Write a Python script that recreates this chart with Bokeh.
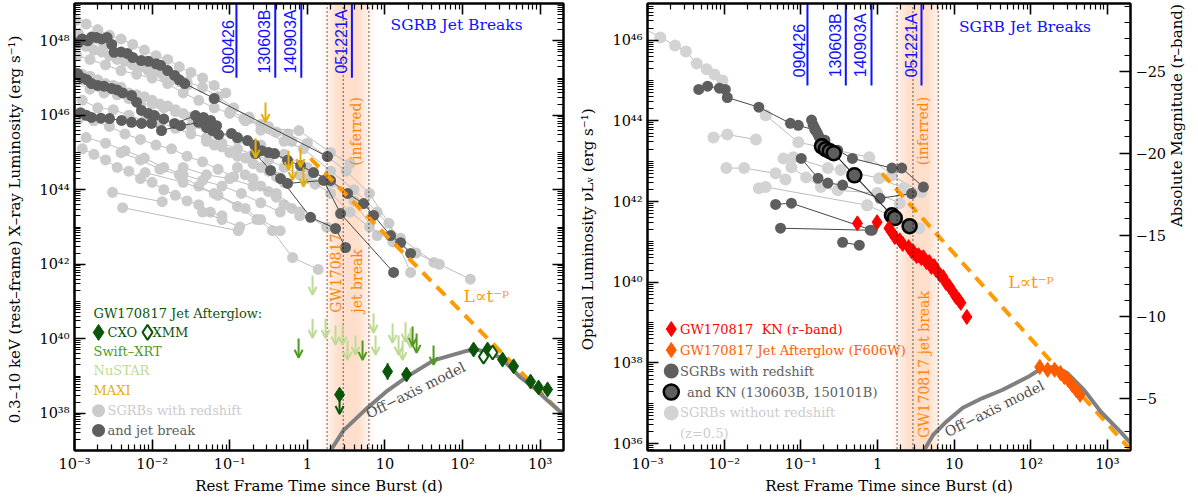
import math
from bokeh.plotting import figure
from bokeh.models import (FixedTicker, CustomJSTickFormatter, LogAxis, LinearAxis, LinearScale,
                          Range1d, Arrow, OpenHead, Label, Span, ColumnDataSource)
from bokeh.layouts import row
from bokeh.embed import file_html
from bokeh.resources import INLINE

# ======================= DATA (log10 t [days], log10 L [erg/s]) =======================
# --- X-ray panel: SGRBs with redshift (light grey curves)
xray_grey_curves = [
    ([-2.98, -2.85, -2.7, -2.55, -2.4, -2.25, -2.1, -1.95, -1.8, -1.65, -1.5, -1.35, -1.2, -1.05],
     [48.55, 48.45, 48.3, 48.15, 48.05, 47.9, 47.75, 47.6, 47.5, 47.3, 47.15, 47.0, 46.8, 46.6]),
    ([-2.95, -2.8, -2.62, -2.45, -2.28, -2.1, -1.92, -1.75, -1.55, -1.35, -1.15, -0.95, -0.75],
     [48.2, 48.0, 47.85, 47.65, 47.5, 47.4, 47.2, 47.05, 46.9, 46.75, 46.5, 46.2, 45.95]),
    ([-2.95, -2.85, -2.75, -2.65, -2.55, -2.45, -2.35, -2.25, -2.15, -2.05, -1.95, -1.85, -1.75, -1.65, -1.55],
     [47.9, 47.85, 47.75, 47.7, 47.6, 47.5, 47.45, 47.35, 47.3, 47.2, 47.15, 47.05, 46.95, 46.9, 46.8]),
    ([-2.97, -2.8, -2.6, -2.4, -2.2, -2.0, -1.8, -1.6, -1.4, -1.2, -1.0, -0.8, -0.6, -0.4, -0.2],
     [47.6, 47.5, 47.35, 47.2, 47.1, 47.0, 46.85, 46.6, 46.4, 46.2, 46.05, 45.85, 45.75, 45.55, 45.3]),
    ([-2.9, -2.8, -2.7, -2.6, -2.5, -2.4, -2.3, -2.2, -2.1, -2.0, -1.9, -1.8, -1.7, -1.6, -1.5, -1.4, -1.3],
     [47.1, 47.05, 46.95, 46.85, 46.8, 46.75, 46.6, 46.55, 46.5, 46.4, 46.3, 46.25, 46.15, 46.05, 45.95, 45.85, 45.8]),
    ([-2.98, -2.8, -2.62, -2.45, -2.3, -2.15, -2.0, -1.85, -1.7],
     [46.9, 46.7, 46.6, 46.55, 46.45, 46.3, 46.3, 46.2, 46.1]),
    ([-2.9, -2.7, -2.5, -2.3, -2.1, -1.9, -1.7, -1.5, -1.3, -1.1, -0.9, -0.7, -0.5, -0.3, -0.1, 0.1],
     [46.4, 46.2, 46.15, 46.0, 45.85, 45.8, 45.65, 45.5, 45.4, 45.25, 45.1, 44.95, 44.8, 44.6, 44.4, 44.15]),
    ([-2.95, -2.75, -2.55, -2.35, -2.15, -1.95, -1.75, -1.55, -1.35, -1.15, -0.95],
     [45.9, 45.85, 45.7, 45.5, 45.35, 45.2, 45.1, 44.9, 44.75, 44.55, 44.35]),
    ([-2.85, -2.6, -2.35, -2.1, -1.85, -1.6, -1.35, -1.1, -0.85, -0.6, -0.35],
     [45.4, 45.25, 45.05, 44.85, 44.6, 44.4, 44.25, 44.1, 43.9, 43.65, 43.4]),
    ([-2.9, -2.75, -2.6, -2.45, -2.3, -2.15, -2.0, -1.85, -1.7, -1.55, -1.4, -1.25, -1.1],
     [45.1, 44.95, 44.8, 44.6, 44.5, 44.3, 44.2, 44.0, 43.85, 43.7, 43.6, 43.4, 43.3]),
    ([-2.4, -2.15, -1.9, -1.65, -1.4, -1.15, -0.9, -0.65],
     [45.0, 44.8, 44.55, 44.4, 44.1, 43.85, 43.55, 43.2]),
    ([-2.51, -1.87], [43.93, 43.68]),
    ([-2.38, -0.89], [43.52, 42.9]),
    ([-2.09, -1.6, -1.2, -0.8, -0.45, -0.19, 0.14], [44.46, 44.2, 43.9, 43.5, 42.9, 42.18, 41.86]),
    ([-1.5, -1.2, -0.9, -0.6, -0.3, 0.0, 0.3, 0.6, 0.9], [45.7, 45.55, 45.35, 45.2, 44.95, 44.6, 44.2, 43.7, 42.77]),
    ([-1.3, -1.2, -1.1, -1.0, -0.9, -0.8, -0.7, -0.6, -0.5, -0.4, -0.3],
     [45.3, 45.2, 45.15, 45.0, 44.9, 44.85, 44.7, 44.6, 44.5, 44.35, 44.2]),
    ([-0.9, -0.8, -0.7, -0.6, -0.5, -0.4, -0.3, -0.2, -0.1],
     [44.6, 44.4, 44.3, 44.1, 43.95, 43.8, 43.6, 43.5, 43.3]),
    ([-1.0, -0.75, -0.5, -0.25, 0.0, 0.25, 0.5, 0.8, 1.05, 1.33],
     [46.1, 45.9, 45.7, 45.5, 45.25, 44.9, 44.5, 43.9, 43.1, 41.78]),
    ([-0.6, -0.3, -0.05, 0.3, 0.6, 0.9, 1.2, 1.63], [45.6, 45.3, 45.1, 44.5, 44.0, 43.4, 42.7, 42.05]),
    ([-1.6, -1.3, -1.0, -0.7, -0.4, -0.1, 0.25], [44.6, 44.4, 44.3, 44.1, 43.9, 43.4, 43.0]),
    ([-0.82, -0.5, -0.11, 0.3, 0.55], [45.91, 45.64, 45.59, 45.0, 44.7]),
    ([0.0, 0.3, 0.55, 0.8, 1.1, 1.4, 1.7, 2.1], [44.3, 43.9, 43.4, 43.0, 42.6, 42.3, 42.0, 41.6]),
    ([-1.35, -1.1, -0.87, -0.6, -0.35], [43.4, 43.2, 43.0, 43.2, 42.9]),
]
# --- X-ray panel: SGRBs with redshift and jet break (dark grey curves)
xray_dark_curves = [
    ([-2.95, -2.9, -2.83, -2.78, -2.72, -2.65, -2.58, -2.52, -2.49, -2.4, -2.32, -2.25, -2.14, -2.05,
      -1.95, -1.89, -1.8, -1.71, -1.65, -1.58, -1.20, 0.26],
     [47.95, 48.05, 48.0, 48.1, 48.09, 48.05, 48.09, 47.9, 47.69, 47.7, 47.66, 47.55, 47.47, 47.45,
      47.38, 47.34, 47.2, 47.07, 46.95, 46.85, 46.45, 44.89]),
    ([-2.961, -2.9, -2.84, -2.781, -2.7, -2.62, -2.523, -2.45, -2.38, -2.265, -2.2, -2.137, -2.05,
      -1.969, -1.85, -1.711, -1.441, -1.402, -1.338, -1.299, -1.247, -1.222, -1.170, -1.144, -0.977,
      -0.9, -0.771, -0.68, -0.590, -0.5, -0.423, -0.255, -0.088, 0.080, 0.299, 0.518, 0.724, 0.853,
      1.072, 1.201, 1.330],
     [47.12, 47.0, 46.95, 46.85, 46.8, 46.78, 46.72, 46.68, 46.6, 46.53, 46.35, 46.13, 46.05, 45.99,
      45.9, 45.78, 45.99, 45.81, 45.94, 45.67, 45.86, 45.59, 45.72, 45.48, 45.51, 45.4, 45.32, 45.2,
      45.05, 45.0, 44.97, 44.79, 44.65, 44.46, 44.25, 43.90, 43.63, 43.31, 42.77, 42.58, 42.29]),
    ([-2.923, -2.85, -2.781, -2.66, -2.549, -2.394, -2.265, -2.137, -2.008, -1.879, -1.634, -1.363],
     [46.07, 46.0, 45.94, 45.92, 45.91, 45.86, 45.81, 45.78, 45.78, 45.59, 45.72, 45.81]),
    ([-0.668, -0.474, -0.345, 0.041, 0.363, 0.492], [44.97, 44.52, 44.30, 43.26, 42.96, 42.45]),
    ([-0.255, 0.209, 0.428, 1.111], [44.17, 44.25, 43.36, 41.78]),
]
# --- GW170817 X-ray afterglow
cxo_logt = [1.034, 1.278, 2.142, 2.322, 2.515, 2.657, 2.876, 2.979, 3.095]
cxo_logL = [39.12, 39.04, 39.71, 39.71, 39.44, 39.26, 38.85, 38.69, 38.64]
cxo_err = [0.22, 0.06, 0.06, 0.06, 0.06, 0.06, 0.08, 0.12, 0.12]
cxo_ul_logt = [0.415]
cxo_ul_logL = [38.50]
xmm_logt = [2.27, 2.387]
xmm_logL = [39.52, 39.63]
xrt_ul_logt = [-0.113, 0.711, 1.356, 1.407, 1.626]
xrt_ul_logL = [40.01, 39.95, 40.33, 40.14, 39.82]
nustar_ul_logt = [0.067, 0.067, 0.235, 0.363, 0.454, 0.518, 0.621, 0.853, 0.879, 1.098, 1.175, 1.227, 1.265, 1.33]
nustar_ul_logL = [41.70, 40.54, 40.54, 40.36, 40.36, 39.95, 40.09, 40.68, 40.09, 40.41, 40.09, 39.95, 40.44, 40.28]
maxi_ul_logt = [-0.539, -0.667, -0.242, -0.19, -0.088, -0.05]
maxi_ul_logL = [46.34, 45.38, 45.05, 44.78, 45.13, 44.60]
# off-axis model & power-law decline (X-ray)
xmodel_logt = [0.299, 0.466, 0.776, 1.034, 1.291, 1.626, 2.064, 2.193, 2.49, 2.747, 2.915, 3.095, 3.30]
xmodel_logL = [37.0, 37.54, 38.15, 38.61, 38.99, 39.42, 39.68, 39.71, 39.50, 38.96, 38.69, 38.34, 37.97]
xdecay_logt = [0.04, 3.30]
xdecay_logL = [44.84, 37.94]

# --- Optical panel: SGRBs without redshift (light grey, z=0.5)
opt_grey_curves = [
    ([-3.1, -2.833, -2.64, -2.499, -2.357, -2.229, -2.126, -2.023],
     [46.35, 46.07, 45.87, 45.72, 45.42, 45.28, 45.15, 45.0]),
    ([-2.139, -1.959, -1.586], [43.59, 43.66, 43.54]),
    ([-1.972, -1.74, -1.329, -1.2], [42.83, 42.83, 42.70, 42.55]),
    ([-1.548, -1.458, -0.134], [42.33, 42.36, 41.91]),
    ([-1.458, -1.033, -0.108, 0.188, 0.573], [44.14, 43.47, 43.10, 42.65, 42.23]),
    ([-1.226, -1.098, -0.648, -0.481, 0.021, 0.342], [43.07, 43.10, 42.83, 42.78, 42.58, 42.33]),
    ([-1.123, -0.931, -0.738, -0.519, -0.005, 0.29], [42.85, 42.60, 42.36, 42.28, 42.21, 41.96]),
    ([-0.134, 0.548], [41.91, 41.34]),
]
# --- Optical panel: SGRBs with redshift (dark grey)
opt_dark_curves = [
    ([-2.332, -2.216, -2.062, -1.985, -1.959, -1.548, -1.136, -1.033, -0.815, -0.686, -0.519, -0.327,
      0.188, 0.316, 0.599],
     [44.78, 44.86, 44.81, 44.78, 44.58, 44.34, 43.94, 43.89, 43.77, 43.52, 43.27, 43.07, 42.83, 42.83,
      42.36]),
    ([-0.995, -0.776, -0.648, -0.455, 0.033, 0.445], [43.07, 42.58, 42.46, 42.41, 42.08, 42.2]),
    ([-1.329, -1.123, -0.069], [41.93, 41.96, 41.29]),
    ([-1.265, -0.095], [41.34, 41.29]),
    ([-0.455, -0.237], [40.99, 40.92]),
    ([-0.86, -0.84, -0.82, -0.80, -0.78, -0.76, -0.74], [44.02, 43.9, 43.82, 43.75, 43.68, 43.6, 43.5]),
]
# SGRBs with kilonova (130603B, 150101B)
kn_sgrb_logt = [-0.725, -0.674, -0.622, -0.571, -0.301, 0.188, 0.226, 0.419]
kn_sgrb_logL = [43.37, 43.30, 43.25, 43.20, 42.65, 41.66, 41.59, 41.39]
# GW170817 kilonova (r-band)
kn_logt = [-0.262, -0.005, 0.149, 0.188, 0.226, 0.290, 0.329, 0.406, 0.445, 0.470, 0.509, 0.535, 0.573,
           0.599, 0.638, 0.676, 0.702, 0.740, 0.766, 0.817, 0.856, 0.895, 0.933, 0.985, 1.023, 1.062,
           1.087, 1.165]
kn_logL = [41.46, 41.49, 41.34, 41.24, 41.12, 41.04, 40.95, 40.87, 40.77, 40.75, 40.65, 40.67, 40.60,
           40.62, 40.50, 40.50, 40.38, 40.40, 40.30, 40.18, 40.13, 39.98, 39.91, 39.76, 39.64, 39.56,
           39.49, 39.14]
# GW170817 optical afterglow (F606W)
f606w_logt = [2.116, 2.219, 2.31, 2.386, 2.437, 2.488, 2.54, 2.591, 2.643]
f606w_logL = [37.90, 37.83, 37.83, 37.75, 37.65, 37.58, 37.45, 37.33, 37.21]
omodel_logt = [0.612, 0.727, 0.895, 1.113, 1.37, 1.627, 1.961, 2.141, 2.308, 2.476, 2.694, 2.913, 3.17, 3.30]
omodel_logL = [35.85, 36.22, 36.54, 36.89, 37.13, 37.33, 37.65, 37.87, 37.90, 37.75, 37.33, 36.79, 36.29, 36.02]
odecay_logt = [0.059, 3.30]
odecay_logL = [42.70, 35.85]

# jet breaks of SGRBs (rest frame days)
jet_break_names = ["090426", "130603B", "140903A", "051221A"]
jet_break_days = [0.122, 0.386, 0.835, 3.75]
# GW170817 inferred jet break window (days)
gw_break_edges = [1.8, 2.9, 6.2]
gw_break_center_logt = 0.525

# ======================= STYLE =======================
SERIF = "DejaVu Serif"
SANS = "Liberation Sans"
LGREY, LGREY_LINE = "#cbcbcb", "#bdbdbd"
DGREY, DGREY_LINE = "#5e5e5e", "#474747"
CXO_GREEN, XRT_GREEN, NUSTAR_GREEN, MAXI_GOLD = "#0b550b", "#4f9a1d", "#bcdb93", "#e3b00a"
BLUE, ORANGE_DASH, ORANGE_TXT, BAND = "#1010ff", "#ff9a00", "#ff8500", "#fca466"
MODEL, KN_RED, F606W_C = "#808080", "#ff0000", "#ff5c00"


def P(a):
    return [10.0 ** v for v in a]


SUP_JS = """
const sup = {'0':'\u2070','1':'\u00b9','2':'\u00b2','3':'\u00b3','4':'\u2074','5':'\u2075',
             '6':'\u2076','7':'\u2077','8':'\u2078','9':'\u2079','-':'\u207b'};
const e = Math.round(Math.log10(tick));
if (e === 0) return '1';
if (e === 1) return '10';
let s = '';
for (const c of String(e)) s += sup[c];
return '10' + s;
"""
BLANK_JS = "return '';"

X_MAJOR = [10.0 ** e for e in range(-3, 4)]
X_MINOR = [k * 10.0 ** e for e in range(-3, 4) for k in range(2, 10)]


def y_ticks(lo, hi):
    major = [10.0 ** e for e in range(lo, hi + 1) if e % 2 == 0]
    minor = [k * 10.0 ** e for e in range(lo - 1, hi + 1) for k in range(1, 10)
             if not (k == 1 and e % 2 == 0)]
    return major, minor


def style_axis(ax, labels=True):
    ax.major_tick_in = 11
    ax.major_tick_out = 0
    ax.minor_tick_in = 6
    ax.minor_tick_out = 0
    ax.major_tick_line_width = 1.6
    ax.minor_tick_line_width = 1.2
    ax.axis_line_width = 2
    ax.major_tick_line_color = "black"
    ax.minor_tick_line_color = "black"
    ax.axis_line_color = "black"
    ax.major_label_text_font = SERIF
    ax.major_label_text_font_size = "14.5px"
    ax.major_label_text_color = "black"
    ax.axis_label_text_font = SERIF
    ax.axis_label_text_font_size = "15px"
    ax.axis_label_text_font_style = "normal"
    ax.axis_label_text_color = "black"
    if not labels:
        ax.formatter = CustomJSTickFormatter(code=BLANK_JS)
        ax.major_label_text_font_size = "0px"
        ax.major_label_standoff = 0


def make_fig(width, bl, br, ylo, yhi, ylabel, ymaj_lo, ymaj_hi, label_standoff, add_right=True):
    p = figure(width=width, height=501, x_axis_type="log", y_axis_type="log",
               x_range=(1e-3, 10 ** 3.3), y_range=(10 ** ylo, 10 ** yhi),
               output_backend="svg", toolbar_location=None,
               min_border_left=bl, min_border_right=br, min_border_top=3, min_border_bottom=51)
    p.grid.visible = False
    p.outline_line_color = "black"
    p.outline_line_width = 2
    p.background_fill_color = "white"
    p.border_fill_color = "white"
    ymaj, ymin = y_ticks(ymaj_lo, ymaj_hi)
    p.xaxis[0].ticker = FixedTicker(ticks=X_MAJOR, minor_ticks=X_MINOR)
    p.xaxis[0].formatter = CustomJSTickFormatter(code=SUP_JS)
    p.xaxis[0].axis_label = "Rest Frame Time since Burst (d)"
    p.xaxis[0].axis_label_standoff = 2
    p.yaxis[0].ticker = FixedTicker(ticks=ymaj, minor_ticks=ymin)
    p.yaxis[0].formatter = CustomJSTickFormatter(code=SUP_JS)
    p.yaxis[0].axis_label = ylabel
    p.yaxis[0].axis_label_standoff = label_standoff
    style_axis(p.xaxis[0])
    style_axis(p.yaxis[0])
    top = LogAxis(ticker=FixedTicker(ticks=X_MAJOR, minor_ticks=X_MINOR))
    style_axis(top, labels=False)
    p.add_layout(top, "above")
    if add_right:
        ra = LogAxis(ticker=FixedTicker(ticks=ymaj, minor_ticks=ymin))
        style_axis(ra, labels=False)
        p.add_layout(ra, "right")
    return p


def band(p):
    for w in [0.34, 0.30, 0.26, 0.23, 0.20, 0.17, 0.14]:
        p.quad(left=[10 ** (gw_break_center_logt - w)], right=[10 ** (gw_break_center_logt + w)],
               bottom=[1e30], top=[1e60], fill_color=BAND, fill_alpha=0.05, line_color=None)
    for t in gw_break_edges:
        p.add_layout(Span(location=t, dimension="height", line_color="black",
                          line_dash="1 3", line_width=1.2))


def curves(p, data, lcol, mcol, size, lw=1):
    for lt, lL in data:
        p.line(P(lt), P(lL), line_color=lcol, line_width=lw)
        p.scatter(P(lt), P(lL), size=size, fill_color=mcol, line_color=None)


def arrows(p, lt, lL, color, drop=0.52):
    src = ColumnDataSource(dict(x=P(lt), y0=P(lL), y1=[10 ** (v - drop) for v in lL]))
    p.add_layout(Arrow(end=OpenHead(size=8, line_color=color, line_width=2),
                       x_start="x", y_start="y0", x_end="x", y_end="y1", source=src,
                       line_color=color, line_width=2))


def txt(p, lt, lL, s, color, size="13px", font=SERIF, angle=0.0, align="left", base="middle", xoff=0):
    p.add_layout(Label(x=10 ** lt, y=10 ** lL, text=s, text_color=color, text_font=font,
                       text_font_size=size, angle=angle, text_align=align, text_baseline=base,
                       x_offset=xoff))


def jet_breaks(p, ytop, ybot, ylab):
    for name, t in zip(jet_break_names, jet_break_days):
        p.segment(x0=[t], y0=[10 ** ytop], x1=[t], y1=[10 ** ybot], line_color=BLUE, line_width=2)
        p.add_layout(Label(x=t, y=10 ** ylab, text=name, text_color=BLUE, text_font=SANS,
                           text_font_size="16px", angle=math.pi / 2, text_align="left",
                           text_baseline="bottom", x_offset=-2))


# ======================= LEFT PANEL: X-RAY =======================
p1 = make_fig(575, 74, 12, 37, 49,
              "0.3\u201310 keV (rest\u2013frame) X\u2013ray Luminosity  (erg s\u207b\u00b9)",
              38, 48, 12)
band(p1)
curves(p1, xray_grey_curves, LGREY_LINE, LGREY, 11)
curves(p1, xray_dark_curves, DGREY_LINE, DGREY, 11)
jet_breaks(p1, 49.2, 47.01, 47.12)
p1.line(P(xdecay_logt), P(xdecay_logL), line_color=ORANGE_DASH, line_width=4, line_dash="12 8")
p1.line(P(xmodel_logt), P(xmodel_logL), line_color=MODEL, line_width=4)
arrows(p1, maxi_ul_logt, maxi_ul_logL, MAXI_GOLD)
arrows(p1, nustar_ul_logt, nustar_ul_logL, NUSTAR_GREEN)
arrows(p1, xrt_ul_logt, xrt_ul_logL, XRT_GREEN)
arrows(p1, cxo_ul_logt, cxo_ul_logL, CXO_GREEN)
p1.segment(x0=P(cxo_logt), x1=P(cxo_logt),
           y0=[10 ** (v - e) for v, e in zip(cxo_logL, cxo_err)],
           y1=[10 ** (v + e) for v, e in zip(cxo_logL, cxo_err)], line_color=CXO_GREEN, line_width=2)
p1.scatter(P(cxo_logt), P(cxo_logL), marker="diamond", size=15, fill_color=CXO_GREEN, line_color=CXO_GREEN)
p1.scatter(P(cxo_ul_logt), P(cxo_ul_logL), marker="diamond", size=15, fill_color=CXO_GREEN, line_color=CXO_GREEN)
p1.scatter(P(xmm_logt), P(xmm_logL), marker="diamond", size=14, fill_color="white",
           line_color=CXO_GREEN, line_width=2)

txt(p1, 1.072, 48.41, "SGRB Jet Breaks", BLUE, size="15.5px")
txt(p1, 0.621, 44.65, "(inferred)", ORANGE_TXT, size="14px", angle=math.pi / 2)
txt(p1, 0.363, 40.70, "GW170817", ORANGE_TXT, size="14px", angle=math.pi / 2)
txt(p1, 0.634, 40.70, "jet break", ORANGE_TXT, size="14px", angle=math.pi / 2)
txt(p1, 2.013, 41.16, "L\u221dt\u207b\u1d56", ORANGE_DASH, size="17px")
txt(p1, 1.394, 38.62, "Off\u2212axis model", "#505050", size="14px", angle=0.46, align="center")

# legend (left)
LEG_X, LEG_TX = -2.69, -2.575
txt(p1, LEG_X, 40.68, "GW170817 Jet Afterglow:", CXO_GREEN, align="left", xoff=-5)
p1.scatter([10 ** LEG_X], [10 ** 40.17], marker="diamond", size=16, fill_color=CXO_GREEN, line_color=CXO_GREEN)
txt(p1, LEG_TX, 40.17, "CXO", CXO_GREEN)
p1.scatter([10 ** -2.059], [10 ** 40.17], marker="diamond", size=15, fill_color="white",
           line_color=CXO_GREEN, line_width=2)
txt(p1, -1.995, 40.17, "XMM", CXO_GREEN)
txt(p1, LEG_X, 39.66, "Swift\u2013XRT", XRT_GREEN, xoff=-5)
txt(p1, LEG_X, 39.15, "NuSTAR", NUSTAR_GREEN, xoff=-5)
txt(p1, LEG_X, 38.61, "MAXI", MAXI_GOLD, xoff=-5)
p1.scatter([10 ** LEG_X], [10 ** 38.07], size=13, fill_color=LGREY, line_color=None)
txt(p1, LEG_TX, 38.07, "SGRBs with redshift", LGREY)
p1.scatter([10 ** LEG_X], [10 ** 37.54], size=13, fill_color=DGREY, line_color=None)
txt(p1, LEG_TX, 37.54, "and jet break", DGREY)

# ======================= RIGHT PANEL: OPTICAL =======================
p2 = make_fig(623, 72, 61, 35.83, 46.91,
              "Optical Luminosity  \u03bdL\u1d65 (erg s\u207b\u00b9)", 36, 46, 12, add_right=False)
p2.extra_y_ranges = {"mag": Range1d(start=-1.82, end=-29.16)}
p2.extra_y_scales = {"mag": LinearScale()}
mag_axis = LinearAxis(y_range_name="mag", axis_label="Absolute Magnitude (r\u2013band)",
                      ticker=FixedTicker(ticks=[-25, -20, -15, -10, -5], minor_ticks=list(range(-29, -1))),
                      formatter=CustomJSTickFormatter(code="return '\u2212' + Math.abs(tick);"))
style_axis(mag_axis)
mag_axis.minor_tick_in = 6
mag_axis.axis_label_standoff = 8
try:
    mag_axis.axis_label_orientation = math.pi / 2
except Exception:
    pass
p2.add_layout(mag_axis, "right")

band(p2)
curves(p2, opt_grey_curves, LGREY_LINE, "#d3d3d3", 12)
curves(p2, opt_dark_curves, DGREY_LINE, DGREY, 11)
p2.line(P(kn_sgrb_logt), P(kn_sgrb_logL), line_color="#333333", line_width=1.2)
p2.scatter(P(kn_sgrb_logt), P(kn_sgrb_logL), size=14, fill_color=DGREY, line_color="black", line_width=2.5)
jet_breaks(p2, 47.1, 44.88, 45.08)
p2.line(P(odecay_logt), P(odecay_logL), line_color=ORANGE_DASH, line_width=4, line_dash="12 8")
p2.line(P(omodel_logt), P(omodel_logL), line_color=MODEL, line_width=4)
p2.scatter(P(kn_logt), P(kn_logL), marker="diamond", size=15, fill_color=KN_RED, line_color=KN_RED)
p2.scatter(P(f606w_logt), P(f606w_logL), marker="diamond", size=15, fill_color=F606W_C, line_color=F606W_C)

txt(p2, 1.062, 46.32, "SGRB Jet Breaks", BLUE, size="15.5px")
txt(p2, 0.599, 42.90, "(inferred)", ORANGE_TXT, size="14px", angle=math.pi / 2)
txt(p2, 0.612, 36.14, "GW170817 jet break", ORANGE_TXT, size="14px", angle=math.pi / 2)
txt(p2, 1.704, 40.0, "L\u221dt\u207b\u1d56", ORANGE_DASH, size="17px")
txt(p2, 1.524, 36.87, "Off\u2212axis model", "#505050", size="14px", angle=0.46, align="center")

# legend (right)
RX, RTX = -2.69, -2.576
p2.scatter([10 ** RX], [10 ** 38.84], marker="diamond", size=15, fill_color=KN_RED, line_color=KN_RED)
txt(p2, RTX, 38.84, "GW170817\u00a0 KN (r\u2013band)", KN_RED)
p2.scatter([10 ** RX], [10 ** 38.32], marker="diamond", size=15, fill_color=F606W_C, line_color=F606W_C)
txt(p2, RTX, 38.32, "GW170817 Jet Afterglow (F606W)", F606W_C)
p2.scatter([10 ** RX], [10 ** 37.80], size=15, fill_color=DGREY, line_color=None)
txt(p2, RTX, 37.80, "SGRBs with redshift", DGREY)
p2.scatter([10 ** RX], [10 ** 37.28], size=15, fill_color=DGREY, line_color="black", line_width=2.5)
txt(p2, -2.486, 37.28, "and KN (130603B, 150101B)", DGREY)
p2.scatter([10 ** RX], [10 ** 36.76], size=15, fill_color="#d3d3d3", line_color=None)
txt(p2, RTX, 36.76, "SGRBs without redshift", "#cccccc")
txt(p2, RTX, 36.24, "(z=0.5)", "#cccccc")

layout = row(p1, p2)
open("out.html", "w").write(file_html(layout, INLINE))
